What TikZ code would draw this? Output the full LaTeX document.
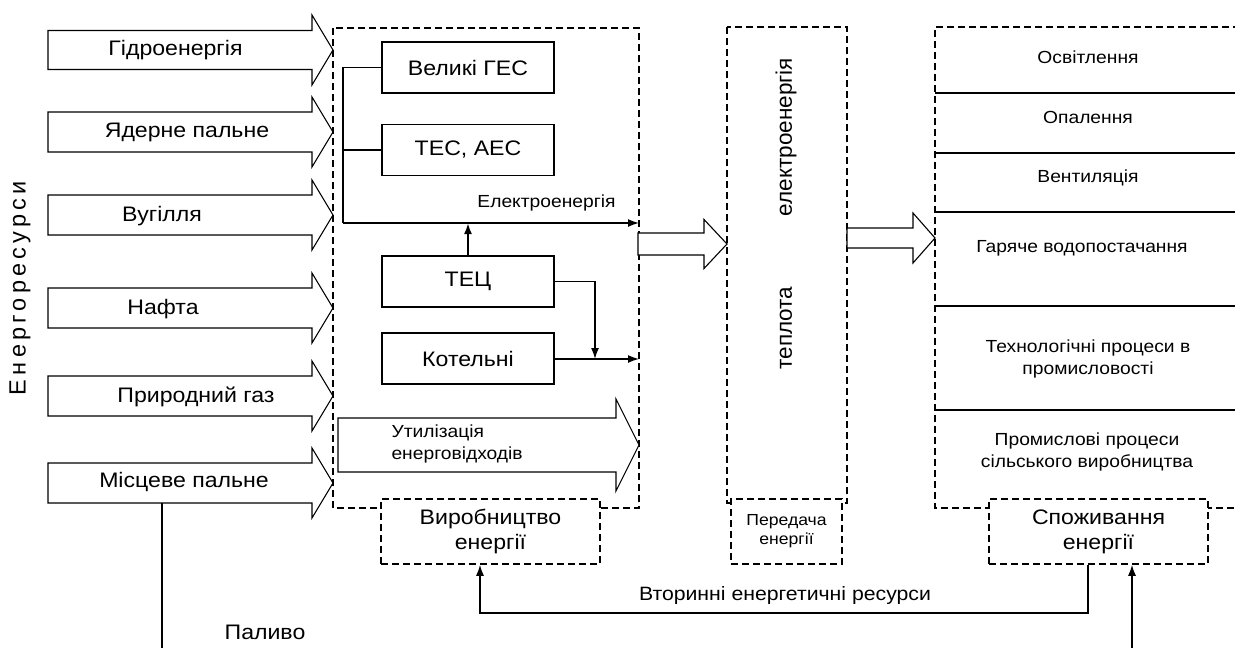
\documentclass[tikz,border=0pt]{standalone}
\usepackage{fontspec}
\setmainfont{Liberation Sans}[FakeStretch=1.1]
\newfontfamily\rotfont{Liberation Sans}
\usetikzlibrary{arrows.meta}
\newcommand\fatarrow[6]{\draw[fat] (#1,{#4-#5}) -- (#2,{#4-#5}) -- (#2,{#4-#6}) -- (#3,#4) -- (#2,{#4+#6}) -- (#2,{#4+#5}) -- (#1,{#4+#5}) -- cycle;}
\begin{document}
\begin{tikzpicture}[x=1pt,y=-1pt,
  fat/.style={draw, line width=1.1pt, fill=white},
  dbox/.style={draw, dash pattern=on 7pt off 4pt, line width=1.5pt},
  dlabel/.style={dbox, fill=white, align=center, inner sep=0pt, minimum height=65pt},
  sbox/.style={draw, line width=1.3pt, minimum width=172pt, minimum height=51pt, inner sep=0pt},
  conn/.style={line width=1.5pt},
  arr/.style={conn, -{Latex[length=11pt,width=8pt]}},
  big/.style={font=\fontsize{21}{24}\selectfont},
  lab/.style={font=\fontsize{21}{25}\selectfont},
  mid/.style={font=\fontsize{17.5}{21.5}\selectfont},
  sm/.style={font=\fontsize{16}{19}\selectfont},
  rot/.style={rotate=90, font=\rotfont\fontsize{22.5}{26}\selectfont}]
\useasboundingbox (0,0) rectangle (1235,648);

% left resource arrows
\fatarrow{48}{312}{333}{50}{19.5}{35}
\fatarrow{48}{312}{333}{132}{20}{35}
\fatarrow{48}{312}{333}{215}{20}{35}
\fatarrow{48}{312}{333}{308}{20}{35}
\fatarrow{48}{312}{333}{396}{20}{35}
\fatarrow{48}{312}{333}{483}{20}{35}
\node[big] (r1) at (175.5,50) {Гідроенергія};
\node[big] (r2) at (187,132) {Ядерне пальне};
\node[big] (r3) at (162,216) {Вугілля};
\node[big] (r4) at (163,309) {Нафта};
\node[big] (r5) at (196,397) {Природний газ};
\node[big] (r6) at (184,482) {Місцеве пальне};
\node[rot, font=\rotfont\fontsize{23.5}{26}\selectfont\addfontfeature{LetterSpace=18}] (res) at (20,288) {Енергоресурси};

% fuel line
\coordinate (fuelTop) at (162,503);
\coordinate (fuelBot) at (162,648);
\draw[line width=1.2pt] (fuelTop) -- (fuelBot);
\node[lab] (fuel) at (265,632) {Паливо};

% production block
\draw[dbox] (333,28) rectangle (639,508);
\node[sbox] (ges) at (468,67.5) {\fontsize{21}{24}\selectfont Великі ГЕС};
\node[sbox] (tes) at (468,150) {\fontsize{21}{24}\selectfont ТЕС, АЕС};
\node[sbox] (tec) at (468,281.5) {\fontsize{21}{24}\selectfont ТЕЦ};
\node[sbox] (kot) at (468,358.5) {\fontsize{21}{24}\selectfont Котельні};
\coordinate (busL) at (343,223);
\coordinate (busR) at (639,223);
\draw[conn] (ges.west) -| (busL);
\draw[conn] (tes.west) -- (tes.west -| busL);
\draw[arr] (busL) -- (busR);
\node[mid] (el) at (546.5,203) {Електроенергія};
\draw[arr, line width=2pt] (tec.north) -- (tec.north |- busL);
\coordinate (heatR) at (639,359);
\coordinate (tecTurn) at (595,281.5);
\draw[arr] (tec.east) -- (tecTurn) -- (tecTurn |- heatR);
\draw[arr] (kot.east |- heatR) -- (heatR);
\fatarrow{338}{616}{639}{445}{27}{46}
\node[mid, align=left, anchor=west] (util) at (388,444) {Утилізація\\енерговідходів};
\node[dlabel, minimum width=219pt, lab] (vyr) at (490.5,531.5) {Виробництво\\енергії};

% transfer arrow and transmission block
\fatarrow{638}{704}{727}{244}{11}{24.5}
\draw[dbox] (727,27) rectangle (847,503);
\node[rot] (tel) at (786,137) {електроенергія};
\node[rot] (tth) at (786,328) {теплота};
\node[dlabel, minimum width=111pt, sm] (per) at (786.5,531.5) {Передача\\енергії};

% consumption block
\fatarrow{847}{913}{935}{238}{10}{25}
\draw[dbox] (1240,27) -- (935,27) -- (935,508) -- (1240,508);
\foreach \yy in {93,153,212,306,410} \draw[conn] (935,\yy) -- (1235,\yy);
\node[mid] (c1) at (1088,57) {Освітлення};
\node[mid] (c2) at (1088,117) {Опалення};
\node[mid] (c3) at (1088,178) {Вентиляція};
\node[mid] (c4) at (1082,248) {Гаряче водопостачання};
\node[mid, align=center] (c5) at (1088,359) {Технологічні процеси в\\промисловості};
\node[mid, align=center] (c6) at (1087,452) {Промислові процеси\\сільського виробництва};
\node[dlabel, minimum width=219pt, lab] (spo) at (1098.5,531.5) {Споживання\\енергії};

% feedback
\coordinate (fbR) at (1088,613);
\draw[arr] ([xshift=-10.5pt]spo.south) -- (fbR) -| ([xshift=-10.5pt]vyr.south);
\node[lab, font=\fontsize{19.3}{23}\selectfont] (sec) at (785,596) {Вторинні енергетичні ресурси};
\coordinate (inB) at (1132,648);
\draw[arr] (inB) -- (inB |- spo.south);
\end{tikzpicture}
\end{document}
